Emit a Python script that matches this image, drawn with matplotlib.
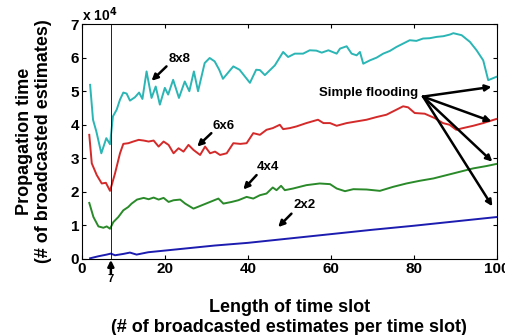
import matplotlib
matplotlib.use("Agg")
import matplotlib.pyplot as plt

plt.rcParams['font.family'] = ['Liberation Sans', 'DejaVu Sans']
plt.rcParams['font.weight'] = 'bold'

# values in units of 1e4 broadcasted estimates
x_8x8 = [2, 2.7, 3.5, 4.7, 5.9, 6.8, 7.5, 8.4, 9.2, 10, 10.8, 11.6, 12.8, 13.8, 14.6,
         15.6, 16.8, 17.8, 18.8, 20, 20.8, 22, 23.4, 24.8, 25.9, 27, 28, 29.6, 30.8,
         32, 33.1, 34, 36.5, 38, 40.5, 42, 42.9, 44.1, 46.5, 48.5, 49.7, 51.3, 53.3,
         54.9, 56.5, 57.8, 59.4, 61.4, 62.2, 63.8, 65, 66.2, 67, 67.8, 69.4, 71, 72.6,
         74.2, 75.8, 77.4, 79, 80.6, 82.2, 83.8, 85.5, 87.1, 88.7, 89.5, 91.5, 93.5,
         95.1, 96.7, 97.9, 99.9]
v_8x8 = [5.19, 4.15, 3.80, 3.15, 3.60, 3.42, 4.25, 4.45, 4.75, 4.96, 4.93, 4.72, 4.82,
         4.96, 4.77, 5.59, 4.80, 5.14, 4.60, 5.10, 4.90, 5.34, 4.80, 5.29, 5.00, 5.59,
         5.00, 5.84, 5.99, 5.89, 5.64, 5.37, 5.74, 5.64, 5.25, 5.64, 5.63, 5.48, 5.77,
         6.17, 6.02, 6.12, 6.12, 6.22, 6.21, 6.15, 6.22, 6.12, 6.27, 6.34, 6.12, 6.07,
         6.17, 5.82, 5.92, 6.00, 6.12, 6.20, 6.32, 6.42, 6.52, 6.50, 6.57, 6.58, 6.62,
         6.64, 6.69, 6.73, 6.67, 6.47, 6.22, 5.92, 5.33, 5.43]

x_6x6 = [1.8, 2.4, 3.6, 4.8, 5.8, 6.8, 8.0, 9.2, 10.0, 11.2, 12.4, 13.7, 14.9, 16.1,
         17.3, 18.5, 19.7, 20.9, 22.1, 23.3, 24.5, 25.7, 26.9, 28.5, 29.7, 30.9, 32.1,
         33.3, 34.9, 36.5, 38.2, 39.7, 41.3, 42.9, 44.5, 46.0, 47.7, 48.5, 50.1, 51.7,
         54.1, 56.9, 58.2, 59.8, 61.4, 63.8, 66.2, 68.6, 71.0, 73.4, 75.8, 77.4, 78.6,
         80.2, 82.6, 85.0, 87.0, 88.6, 90.2, 91.8, 94.3, 96.7, 99.8]
v_6x6 = [3.70, 2.85, 2.50, 2.25, 2.27, 2.03, 2.55, 3.15, 3.43, 3.45, 3.50, 3.55, 3.53,
         3.50, 3.53, 3.35, 3.50, 3.40, 3.15, 3.30, 3.20, 3.40, 3.25, 3.10, 3.35, 3.15,
         3.20, 3.10, 3.15, 3.45, 3.43, 3.45, 3.75, 3.70, 3.85, 3.90, 4.00, 3.87, 3.90,
         3.95, 4.05, 4.15, 4.05, 4.05, 3.97, 4.05, 4.10, 4.15, 4.23, 4.30, 4.45, 4.55,
         4.52, 4.35, 4.33, 4.20, 4.05, 4.00, 3.85, 3.90, 3.97, 4.05, 4.17]

x_4x4 = [1.8, 2.8, 4.0, 5.2, 6.0, 6.8, 7.6, 8.8, 10.0, 11.2, 12.0, 13.3, 14.9, 16.1,
         17.3, 18.5, 19.7, 20.9, 22.1, 23.7, 24.9, 26.9, 28.9, 30.9, 32.9, 34.1, 36.1,
         37.7, 39.7, 41.3, 42.9, 44.5, 46.0, 46.9, 48.0, 48.9, 50.9, 54.1, 57.3, 59.8,
         61.4, 63.4, 65.4, 68.6, 71.8, 75.0, 78.2, 81.4, 84.7, 87.9, 91.1, 94.3, 97.5,
         99.8]
v_4x4 = [1.67, 1.25, 0.97, 0.93, 0.97, 0.90, 1.10, 1.25, 1.45, 1.55, 1.65, 1.77, 1.82,
         1.78, 1.83, 1.77, 1.82, 1.70, 1.75, 1.77, 1.65, 1.50, 1.60, 1.70, 1.80, 1.65,
         1.70, 1.75, 1.85, 1.80, 1.90, 1.95, 2.13, 2.05, 2.18, 2.05, 2.10, 2.20, 2.25,
         2.23, 2.10, 2.02, 2.08, 2.07, 2.03, 2.15, 2.25, 2.33, 2.40, 2.50, 2.60, 2.70,
         2.77, 2.83]

x_2x2 = [2, 4, 6, 7, 8, 10, 11.6, 13.2, 16, 20, 24, 32, 40, 50, 60, 70, 80, 90, 100]
v_2x2 = [0.02, 0.08, 0.13, 0.16, 0.11, 0.15, 0.19, 0.13, 0.20, 0.25, 0.30, 0.40, 0.48,
         0.61, 0.74, 0.87, 0.99, 1.12, 1.25]

x_ticks = [0, 20, 40, 60, 80, 100]
y_ticks = [0, 1, 2, 3, 4, 5, 6, 7]
optimal_slot = 7

fig = plt.figure(figsize=(5.05, 3.35), dpi=100)
ax = fig.add_axes([0.162, 0.227, 0.822, 0.701])

ax.plot(x_8x8, v_8x8, color='#2BB5B5', lw=1.4)
ax.plot(x_6x6, v_6x6, color='#D42A2A', lw=1.4)
ax.plot(x_4x4, v_4x4, color='#2A8A2A', lw=1.4)
ax.plot(x_2x2, v_2x2, color='#1C1CB0', lw=1.4)
ax.axvline(optimal_slot, color='black', lw=0.6)

ax.set_xlim(0, 100)
ax.set_ylim(0, 7)
ax.set_xticks(x_ticks)
ax.set_yticks(y_ticks)
ax.tick_params(direction='in', top=True, right=True, length=3, labelsize=11, pad=2)
for lab in ax.get_xticklabels() + ax.get_yticklabels():
    lab.set_fontweight('bold')

ax.text(0.0, 1.0, 'x 10$^{\\mathbf{4}}$', transform=ax.transAxes, fontsize=10,
        fontweight='bold', ha='left', va='bottom')

arrow = dict(arrowstyle='-|>', color='black', lw=1.8, mutation_scale=9, shrinkA=0, shrinkB=0)
ax.annotate('', xy=(16.8, 5.31), xytext=(20.4, 5.74), arrowprops=arrow)
ax.text(23.6, 5.97, '8x8', fontsize=9.5, fontweight='bold', ha='center', va='center')
ax.annotate('', xy=(27.8, 3.35), xytext=(31.2, 3.75), arrowprops=arrow)
ax.text(34.2, 3.97, '6x6', fontsize=9.5, fontweight='bold', ha='center', va='center')
ax.annotate('', xy=(38.9, 2.07), xytext=(42.1, 2.50), arrowprops=arrow)
ax.text(44.9, 2.73, '4x4', fontsize=9.5, fontweight='bold', ha='center', va='center')
ax.annotate('', xy=(47.3, 0.95), xytext=(50.5, 1.35), arrowprops=arrow)
ax.text(53.7, 1.60, '2x2', fontsize=9.5, fontweight='bold', ha='center', va='center')

ax.text(69.0, 4.96, 'Simple flooding', fontsize=9.5, fontweight='bold', ha='center', va='center')
for tx, ty in [(98.7, 5.13), (98.7, 4.10), (98.9, 2.90), (98.9, 1.57)]:
    ax.annotate('', xy=(tx, ty), xytext=(82.2, 4.84), arrowprops=arrow)

ax.annotate('', xy=(optimal_slot, -0.03), xytext=(optimal_slot, -0.45),
            arrowprops=arrow, annotation_clip=False)
ax.text(optimal_slot, -0.6, '7', fontsize=8, fontweight='bold', ha='center', va='center',
        clip_on=False)

ax.set_xlabel('Length of time slot\n(# of broadcasted estimates per time slot)',
              fontsize=13, fontweight='bold', labelpad=17, linespacing=1.2)
ax.set_ylabel('Propagation time\n(# of broadcasted estimates)',
              fontsize=13, fontweight='bold', labelpad=13, linespacing=1.2)

fig.savefig('out.png', dpi=100)
